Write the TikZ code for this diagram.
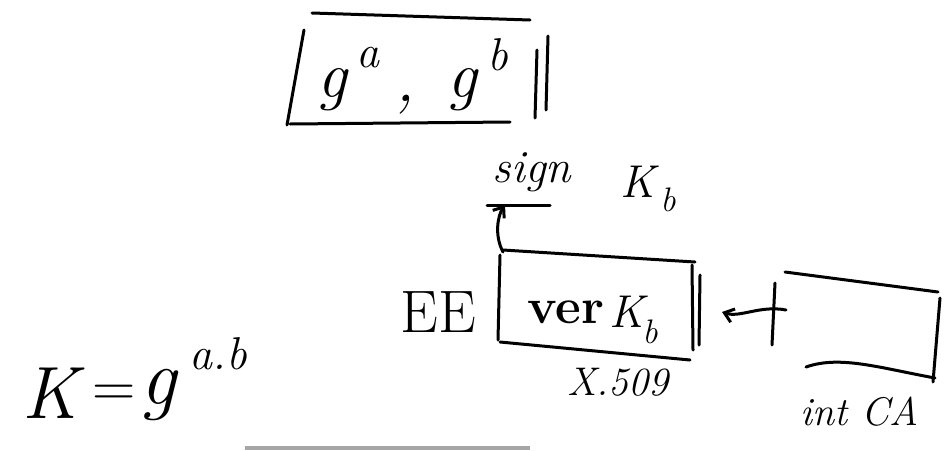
\documentclass[tikz,border=0pt]{standalone}
\usepackage{fontspec}
\usetikzlibrary{arrows.meta}
\begin{document}
\begin{tikzpicture}[x=1pt,y=-1pt,
  ink/.style={line width=3pt, line cap=round, line join=round},
  arr/.style={ink, -{Straight Barb[length=9pt,width=14pt,line width=3pt]}},
  big/.style={inner sep=0pt, font=\fontsize{66}{70}\selectfont\itshape},
  mid/.style={inner sep=0pt, font=\fontsize{46}{50}\selectfont\itshape},
  small/.style={inner sep=0pt, font=\fontsize{40}{44}\selectfont\itshape}]
\useasboundingbox (0,0) rectangle (952,450);
% top box
\draw[ink] (312,13) -- (530,20);
\draw[ink] (304,30) -- (287,125);
\draw[ink] (290,124) -- (510,122);
\draw[ink] (537,50) -- (535,118);
\draw[ink] (548,36) -- (546,110);
\node[big] (ga) at (332,90) {g};
\node[mid] (sa) at (368,58) {a};
\node[big] (comma) at (405,105) {,};
\node[big] (gb) at (462,90) {g};
\node[mid] (sb) at (498,55) {b};
% sign K_b
\node[mid] (sign) at (532,172) {sign};
\node[mid] (kb) at (638,182) {K};
\node[small,font=\fontsize{34}{38}\selectfont\itshape] (kbsub) at (668,200) {b};
\coordinate (signline) at (505,205);
\draw[ink] (487,205) -- (550,205);
% middle box
\draw[ink] (503,250) -- (695,262);
\draw[ink] (500,255) -- (498,340);
\draw[ink] (500,342) -- (690,360);
\draw[ink] (692,265) -- (693,350);
\draw[ink] (700,275) -- (699,345);
\coordinate (boxcorner) at (503,252);
\node[mid,font=\fontsize{50}{54}\selectfont\bfseries] (ver) at (566,312) {ver};
\node[mid] (verk) at (627,312) {K};
\node[small,font=\fontsize{34}{38}\selectfont\itshape] (versub) at (650,332) {b};
\node[big,font=\fontsize{60}{64}\selectfont] (ee) at (438,312) {EE};
\node[small] (x509) at (618,382) {X.509};
\draw[arr] (boxcorner) .. controls (494,235) and (498,215) .. (signline);
% CA box
\draw[ink] (785,272) -- (938,292);
\draw[ink] (940,298) -- (933,382);
\draw[ink] (806,367) .. controls (840,355) and (880,368) .. (935,378);
\node[small] (ca) at (860,412) {int CA};
\coordinate (catick) at (786,310);
\coordinate (eeside) at (722,312);
\draw[ink] (775,283) -- (772,345);
\draw[arr] (catick) .. controls (760,305) and (740,318) .. (eeside);
% K = g^{a.b}
\node[big,font=\fontsize{74}{78}\selectfont\itshape] (kk) at (50,393) {K};
\node[big,font=\fontsize{60}{64}\selectfont] (eq) at (114,396) {=};
\node[big,font=\fontsize{80}{84}\selectfont\itshape] (gg) at (158,395) {g};
\node[mid] (ab) at (218,354) {a.b};
% bottom shadow bar
\fill[gray!70] (245,446) rectangle (530,450);
\end{tikzpicture}
\end{document}
